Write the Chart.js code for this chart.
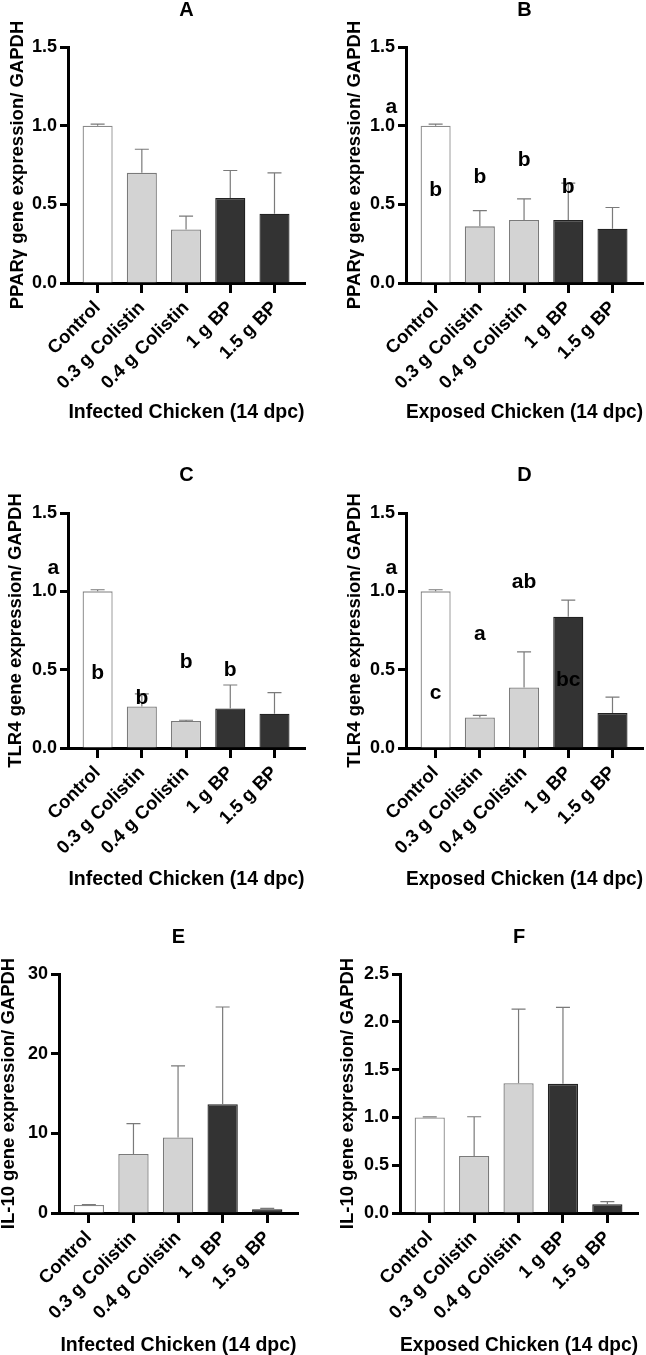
<!DOCTYPE html>
<html>
<head>
<meta charset="utf-8">
<script src="https://cdn.jsdelivr.net/npm/chart.js@4.4.1/dist/chart.umd.min.js"></script>
<style>
  html, body { margin: 0; padding: 0; background: #fff; }
  body { position: relative; width: 646px; height: 1355px; overflow: hidden; }
  canvas { position: absolute; }
</style>
</head>
<body>
<canvas id="chartA"></canvas>
<canvas id="chartB"></canvas>
<canvas id="chartC"></canvas>
<canvas id="chartD"></canvas>
<canvas id="chartE"></canvas>
<canvas id="chartF"></canvas>
<script>
// groups on the x axis
const groups = ['Control', '0.3 g Colistin', '0.4 g Colistin', '1 g BP', '1.5 g BP'];

// PPARγ
const pparInfected = [1.0, 0.70, 0.34, 0.54, 0.44];
const pparInfectedErr = [0.01, 0.15, 0.085, 0.175, 0.26];
const pparExposed = [1.0, 0.36, 0.40, 0.40, 0.345];
const pparExposedErr = [0.01, 0.10, 0.135, 0.235, 0.135];

// TLR4
const tlr4Infected = [1.0, 0.265, 0.172, 0.252, 0.219];
const tlr4InfectedErr = [0.01, 0.08, 0.005, 0.15, 0.135];
const tlr4Exposed = [1.0, 0.195, 0.386, 0.838, 0.223];
const tlr4ExposedErr = [0.01, 0.013, 0.227, 0.106, 0.102];

// IL-10
const il10Infected = [1.0, 7.42, 9.47, 13.66, 0.46];
const il10InfectedErr = [0.05, 3.8, 9.0, 12.2, 0.13];
const il10Exposed = [1.0, 0.597, 1.358, 1.351, 0.091];
const il10ExposedErr = [0.006, 0.41, 0.775, 0.8, 0.028];

// y tick labels
const ticksUnit = [0, 0.5, 1.0, 1.5];
const ticksIl10Infected = [0, 10, 20, 30];
const ticksIl10Exposed = [0, 0.5, 1.0, 1.5, 2.0, 2.5];

// significance letters: text, group index, height (data units)
const pparExposedLetters = ['a', 'b', 'b', 'b', 'b'];
const pparExposedLetterAt = [-1, 0, 1, 2, 3];
const pparExposedLetterY = [1.12, 0.59, 0.67, 0.78, 0.61];
const tlr4InfectedLetters = ['a', 'b', 'b', 'b', 'b'];
const tlr4InfectedLetterAt = [-1, 0, 1, 2, 3];
const tlr4InfectedLetterY = [1.146, 0.477, 0.318, 0.545, 0.499];
const tlr4ExposedLetters = ['a', 'c', 'a', 'ab', 'bc'];
const tlr4ExposedLetterAt = [-1, 0, 1, 2, 3];
const tlr4ExposedLetterY = [1.146, 0.35, 0.726, 1.057, 0.435];

const barColors = ['#ffffff', '#d3d3d3', '#d3d3d3', '#333333', '#333333'];
const barBorders = ['#8a8a8a', '#7a7a7a', '#7a7a7a', '#222222', '#222222'];
const FONT = '"Liberation Sans", Arial, sans-serif';

// draws the upper error bars and the letters on top of the bars
const errorBarsAndLetters = {
    id: 'errorBarsAndLetters',
    afterDatasetsDraw(chart, args, opts) {
        const {ctx, scales: {x, y}} = chart;
        const points = chart.data.datasets[0].data;
        ctx.save();
        ctx.strokeStyle = '#7a7a7a';
        ctx.lineWidth = 1.2;
        points.forEach((pt, i) => {
            const px = x.getPixelForValue(pt.x);
            const y0 = y.getPixelForValue(pt.y);
            const y1 = y.getPixelForValue(pt.y + opts.errors[i]);
            ctx.beginPath();
            ctx.moveTo(px, y0);
            ctx.lineTo(px, y1);
            ctx.moveTo(px - 7, y1);
            ctx.lineTo(px + 7, y1);
            ctx.stroke();
        });
        if (opts.letters) {
            ctx.fillStyle = '#000';
            ctx.font = 'bold 21px ' + FONT;
            ctx.textAlign = 'center';
            ctx.textBaseline = 'middle';
            opts.letters.forEach((t, i) => {
                ctx.fillText(t, x.getPixelForValue(opts.letterAt[i]), y.getPixelForValue(opts.letterY[i]));
            });
        }
        ctx.restore();
    }
};

function makePanel(p) {
    // canvas box in page coordinates, chart area fixed by p.area
    const cx = p.area.l - 80, cy = p.titleY - 14;
    const cw = p.area.r + 8 - cx, ch = p.xTitleY + 20 - cy;
    const canvas = document.getElementById(p.id);
    canvas.width = cw; canvas.height = ch;
    canvas.style.left = cx + 'px'; canvas.style.top = cy + 'px';
    canvas.style.width = cw + 'px'; canvas.style.height = ch + 'px';

    new Chart(canvas, {
        type: 'bar',
        data: {
            datasets: [{
                data: groups.map((g, i) => ({x: i, y: p.values[i]})),
                backgroundColor: barColors,
                borderColor: barBorders,
                borderWidth: 1.3,
                categoryPercentage: 1,
                barPercentage: 0.68
            }]
        },
        options: {
            responsive: false,
            animation: false,
            layout: { padding: { left: 0, top: 0, right: 8, bottom: 0 } },
            scales: {
                x: {
                    type: 'linear',
                    min: -0.67,
                    max: 4.69,
                    offset: false,
                    afterBuildTicks: s => { s.ticks = groups.map((g, i) => ({value: i})); },
                    afterFit: s => { s.height = ch - (p.area.b - cy); },
                    ticks: {
                        autoSkip: false,
                        minRotation: 45,
                        maxRotation: 45,
                        padding: 4,
                        color: '#000',
                        font: { family: FONT, size: 18.5, weight: 'bold' },
                        callback: v => groups[v]
                    },
                    grid: { drawOnChartArea: false, offset: false, tickLength: 10, tickWidth: 3, tickColor: '#000' },
                    border: { color: '#000', width: 3 },
                    title: {
                        display: true,
                        text: p.xLabel,
                        color: '#000',
                        font: { family: FONT, size: 19.5, weight: 'bold' },
                        padding: { top: 0, bottom: 20 - 11.7 }
                    }
                },
                y: {
                    min: 0,
                    max: p.ticks[p.ticks.length - 1],
                    afterBuildTicks: s => { s.ticks = p.ticks.map(v => ({value: v})); },
                    afterFit: s => { s.width = 80; },
                    ticks: {
                        padding: 3,
                        color: '#000',
                        font: { family: FONT, size: 18, weight: 'bold' },
                        callback: v => p.fmt(v)
                    },
                    grid: { drawOnChartArea: false, tickLength: 8, tickWidth: 3, tickColor: '#000' },
                    border: { color: '#000', width: 3 },
                    title: {
                        display: true,
                        text: p.yLabel,
                        color: '#000',
                        font: { family: FONT, size: 18.5, weight: 'bold' },
                        padding: { top: p.yTitleX - cx - 11.1, bottom: 0 }
                    }
                }
            },
            plugins: {
                legend: { display: false },
                tooltip: { enabled: false },
                title: {
                    display: true,
                    text: p.title,
                    fullSize: false,
                    color: '#000',
                    font: { family: FONT, size: 20, weight: 'bold' },
                    padding: { top: 2, bottom: (p.area.t - cy) - 24 - 2 }
                },
                errorBarsAndLetters: {
                    errors: p.errors,
                    letters: p.letters,
                    letterAt: p.letterAt,
                    letterY: p.letterY
                }
            }
        },
        plugins: [errorBarsAndLetters]
    });
}

const oneDecimal = v => v.toFixed(1);

makePanel({ id: 'chartA', title: 'A', yLabel: 'PPARγ gene expression/ GAPDH', xLabel: 'Infected Chicken (14 dpc)',
    values: pparInfected, errors: pparInfectedErr, ticks: ticksUnit, fmt: oneDecimal,
    area: {l: 68, t: 47, r: 305, b: 283}, titleY: 10, yTitleX: 18, xTitleY: 413 });
makePanel({ id: 'chartB', title: 'B', yLabel: 'PPARγ gene expression/ GAPDH', xLabel: 'Exposed Chicken (14 dpc)',
    values: pparExposed, errors: pparExposedErr, ticks: ticksUnit, fmt: oneDecimal,
    letters: pparExposedLetters, letterAt: pparExposedLetterAt, letterY: pparExposedLetterY,
    area: {l: 406, t: 47, r: 643, b: 283}, titleY: 10, yTitleX: 355, xTitleY: 413 });
makePanel({ id: 'chartC', title: 'C', yLabel: 'TLR4 gene expression/ GAPDH', xLabel: 'Infected Chicken (14 dpc)',
    values: tlr4Infected, errors: tlr4InfectedErr, ticks: ticksUnit, fmt: oneDecimal,
    letters: tlr4InfectedLetters, letterAt: tlr4InfectedLetterAt, letterY: tlr4InfectedLetterY,
    area: {l: 68, t: 513, r: 305, b: 748}, titleY: 475, yTitleX: 16, xTitleY: 880 });
makePanel({ id: 'chartD', title: 'D', yLabel: 'TLR4 gene expression/ GAPDH', xLabel: 'Exposed Chicken (14 dpc)',
    values: tlr4Exposed, errors: tlr4ExposedErr, ticks: ticksUnit, fmt: oneDecimal,
    letters: tlr4ExposedLetters, letterAt: tlr4ExposedLetterAt, letterY: tlr4ExposedLetterY,
    area: {l: 406, t: 513, r: 643, b: 748}, titleY: 475, yTitleX: 355, xTitleY: 880 });
makePanel({ id: 'chartE', title: 'E', yLabel: 'IL-10 gene expression/ GAPDH', xLabel: 'Infected Chicken (14 dpc)',
    values: il10Infected, errors: il10InfectedErr, ticks: ticksIl10Infected, fmt: v => String(v),
    area: {l: 59, t: 974, r: 298, b: 1213}, titleY: 937, yTitleX: 9, xTitleY: 1346 });
makePanel({ id: 'chartF', title: 'F', yLabel: 'IL-10 gene expression/ GAPDH', xLabel: 'Exposed Chicken (14 dpc)',
    values: il10Exposed, errors: il10ExposedErr, ticks: ticksIl10Exposed, fmt: oneDecimal,
    area: {l: 400, t: 974, r: 638, b: 1213}, titleY: 937, yTitleX: 348, xTitleY: 1346 });
</script>
</body>
</html>
